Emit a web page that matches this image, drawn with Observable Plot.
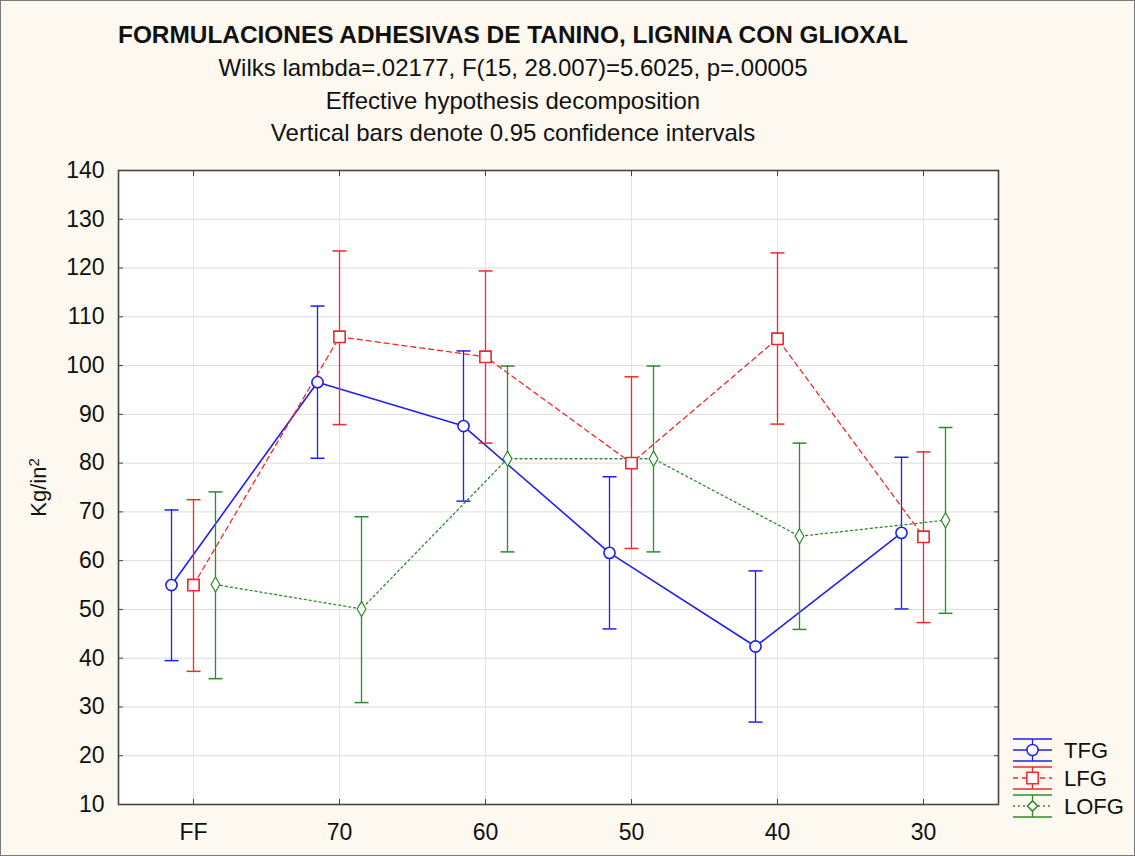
<!DOCTYPE html>
<html>
<head>
<meta charset="utf-8">
<script src="https://cdn.jsdelivr.net/npm/d3@7"></script>
<script src="https://cdn.jsdelivr.net/npm/@observablehq/plot@0.6"></script>
<style>
  body { margin: 0; background: #fdf9f0; }
  #page { position: relative; width: 1135px; height: 856px; background: #fdf9f0; overflow: hidden; font-family: "Liberation Sans", Arial, sans-serif; color: #111; }
  #head { position: relative; height: 150px; }
  .t { position: absolute; left: 0; width: 1026px; text-align: center; white-space: nowrap; line-height: 1.15; }
  #border { position: absolute; left: 0; top: 0; width: 1133px; height: 854px; border: 1px solid #7a7a7a; pointer-events: none; }
  #legend { position: absolute; left: 0; top: 0; }
</style>
</head>
<body>
<div id="page">
  <div id="head">
    <div class="t" style="top:21px;font-size:24.4px;font-weight:bold;">FORMULACIONES ADHESIVAS DE TANINO, LIGNINA CON GLIOXAL</div>
    <div class="t" style="top:54px;font-size:24px;">Wilks lambda=.02177, F(15, 28.007)=5.6025, p=.00005</div>
    <div class="t" style="top:87px;font-size:24px;">Effective hypothesis decomposition</div>
    <div class="t" style="top:119px;font-size:24px;">Vertical bars denote 0.95 confidence intervals</div>
  </div>
  <div id="chart"></div>
  <svg id="legend" width="1135" height="856"></svg>
  <div id="border"></div>
</div>
<script>
// ---- data ----
const categories = ["FF", "70", "60", "50", "40", "30"];
const seriesNames = ["TFG", "LFG", "LOFG"];
const tfgMean  = [55.0, 96.6, 87.6, 61.6, 42.4, 65.7];
const tfgLow   = [39.5, 81.0, 72.2, 46.0, 26.9, 50.1];
const tfgHigh  = [70.4, 112.2, 103.0, 77.2, 57.9, 81.2];
const lfgMean  = [55.0, 105.9, 101.8, 80.0, 105.5, 64.9];
const lfgLow   = [37.3, 87.9, 84.1, 62.5, 88.0, 47.3];
const lfgHigh  = [72.5, 123.5, 119.4, 97.7, 123.1, 82.3];
const lofgMean = [55.1, 50.1, 80.9, 80.9, 65.0, 68.3];
const lofgLow  = [35.8, 30.9, 61.8, 61.8, 45.9, 49.2];
const lofgHigh = [74.1, 69.0, 99.9, 99.9, 84.1, 87.3];
const yTicks = [10, 20, 30, 40, 50, 60, 70, 80, 90, 100, 110, 120, 130, 140];

// ---- styles ----
const style = {
  TFG:  {color: "#2020ec", dash: null,  width: 1.6, dx: -22, symbol: "circle",  r: 5.6},
  LFG:  {color: "#ee2a2a", dash: "5,4", width: 1.3, dx: 0,   symbol: "square",  r: 6.4},
  LOFG: {color: "#2f8a2f", dash: "2,3", width: 1.3, dx: 22,  symbol: "diamond", r: 4.6}
};
const valueSets = {
  TFG:  [tfgMean, tfgLow, tfgHigh],
  LFG:  [lfgMean, lfgLow, lfgHigh],
  LOFG: [lofgMean, lofgLow, lofgHigh]
};
const rows = seriesNames.flatMap(s => categories.map((c, i) => ({
  series: s, cat: c, mean: valueSets[s][0][i], lo: valueSets[s][1][i], hi: valueSets[s][2][i]
})));

// horizontal cap symbol
const capSymbol = {draw(ctx, size) { const w = Math.sqrt(size / Math.PI); ctx.moveTo(-w, 0); ctx.lineTo(w, 0); }};

const seriesMarks = [];
for (const s of seriesNames) {
  const st = style[s];
  const data = rows.filter(d => d.series === s);
  seriesMarks.push(
    Plot.ruleX(data, {x: "cat", y1: "lo", y2: "hi", dx: st.dx, stroke: st.color, strokeWidth: 1.3}),
    Plot.dot(data, {x: "cat", y: "lo", dx: st.dx, symbol: capSymbol, r: 7, stroke: st.color, fill: "none", strokeWidth: 1.5}),
    Plot.dot(data, {x: "cat", y: "hi", dx: st.dx, symbol: capSymbol, r: 7, stroke: st.color, fill: "none", strokeWidth: 1.5}),
    Plot.line(data, {x: "cat", y: "mean", dx: st.dx, stroke: st.color, strokeWidth: st.width, strokeDasharray: st.dash})
  );
}
const markerMarks = seriesNames.map(s => {
  const st = style[s];
  return Plot.dot(rows.filter(d => d.series === s), {x: "cat", y: "mean", dx: st.dx, symbol: st.symbol, r: st.r,
    fill: "white", stroke: st.color, strokeWidth: s === "LOFG" ? 1.2 : 1.6});
});

const chart = Plot.plot({
  width: 1135,
  height: 706,
  marginLeft: 118,
  marginRight: 137,
  marginTop: 20,
  marginBottom: 52,
  style: {background: "transparent", fontFamily: "'Liberation Sans', Arial, sans-serif", color: "#111"},
  x: {type: "point", domain: categories, padding: 0.5},
  y: {domain: [10, 140]},
  marks: [
    Plot.frame({fill: "white", stroke: "none"}),
    Plot.gridY(yTicks, {stroke: "#dcdcdc", strokeOpacity: 1, strokeWidth: 1}),
    Plot.gridX({stroke: "#e4e4e4", strokeOpacity: 1, strokeWidth: 1}),
    Plot.axisY(yTicks, {anchor: "left", tickSize: 0, tickPadding: 14, fontSize: 23, label: null}),
    Plot.axisY(yTicks, {anchor: "left", tickSize: -5, text: null, label: null, stroke: "#444"}),
    Plot.axisY(yTicks, {anchor: "right", tickSize: -5, text: null, label: null, stroke: "#444"}),
    Plot.axisX({anchor: "bottom", tickSize: 0, tickPadding: 19, fontSize: 23, label: null}),
    Plot.axisX({anchor: "bottom", tickSize: -5, text: null, label: null, stroke: "#444"}),
    Plot.axisX({anchor: "top", tickSize: -5, text: null, label: null, stroke: "#444"}),
    Plot.text(["Kg/in²"], {frameAnchor: "left", dx: -80, rotate: -90, fontSize: 22, fill: "#111"}),
    ...seriesMarks,
    ...markerMarks,
    Plot.frame({stroke: "#444", strokeWidth: 1.6})
  ]
});
document.getElementById("chart").appendChild(chart);

// proper superscript for the y-axis label
d3.select(chart).selectAll("text").filter(function() { return this.textContent === "Kg/in²"; })
  .each(function() {
    const t = d3.select(this);
    t.text(null).attr("text-anchor", "middle");
    t.append("tspan").text("Kg/in");
    t.append("tspan").attr("dy", "-0.45em").attr("font-size", "15px").text("2");
  });

// ---- legend ----
const lg = d3.select("#legend");
const legendY = {TFG: 750, LFG: 778, LOFG: 806};
const symGen = {circle: d3.symbolCircle, square: d3.symbolSquare, diamond: d3.symbolDiamond2};
for (const s of seriesNames) {
  const st = style[s];
  const cy = legendY[s];
  const g = lg.append("g");
  g.append("line").attr("x1", 1013).attr("x2", 1052).attr("y1", cy - 11).attr("y2", cy - 11).attr("stroke", st.color).attr("stroke-width", 1.5);
  g.append("line").attr("x1", 1013).attr("x2", 1052).attr("y1", cy + 11).attr("y2", cy + 11).attr("stroke", st.color).attr("stroke-width", 1.5);
  g.append("line").attr("x1", 1032.5).attr("x2", 1032.5).attr("y1", cy - 11).attr("y2", cy + 11).attr("stroke", st.color).attr("stroke-width", 1.3);
  g.append("line").attr("x1", 1013).attr("x2", 1052).attr("y1", cy).attr("y2", cy).attr("stroke", st.color)
    .attr("stroke-width", st.width).attr("stroke-dasharray", st.dash);
  g.append("path").attr("transform", `translate(1032.5,${cy})`)
    .attr("d", d3.symbol(symGen[st.symbol], Math.PI * st.r * st.r)())
    .attr("fill", "white").attr("stroke", st.color).attr("stroke-width", 1.5);
  g.append("text").attr("x", 1064).attr("y", cy).attr("dy", "0.35em").attr("font-size", 22)
    .attr("font-family", "'Liberation Sans', Arial, sans-serif").attr("fill", "#111").text(s);
}
</script>
</body>
</html>
